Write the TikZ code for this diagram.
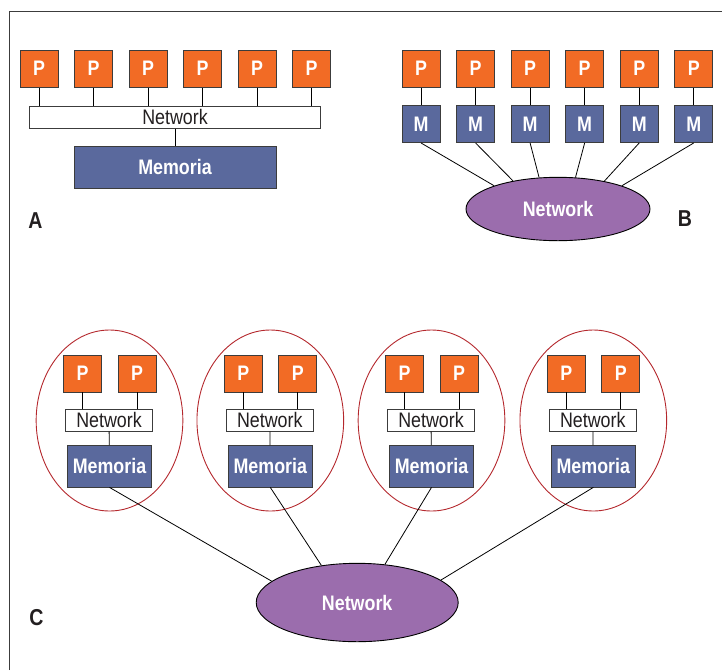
\documentclass[tikz,border=0pt]{standalone}
\usepackage{fontspec}
\setmainfont{Liberation Sans}[FakeStretch=0.85]
\usepackage{tikz}
\usetikzlibrary{shapes.geometric, positioning}

\definecolor{porange}{RGB}{242,107,37}
\definecolor{mblue}{RGB}{90,105,157}
\definecolor{npurple}{RGB}{155,109,173}
\definecolor{cred}{RGB}{180,40,45}
\definecolor{boxgray}{RGB}{60,60,60}
\definecolor{textgray}{RGB}{35,31,32}

\begin{document}
\begin{tikzpicture}[
  x=1pt, y=-1pt,
  pbox/.style={draw=boxgray, line width=0.9pt, fill=porange, minimum width=38pt, minimum height=37pt,
               inner sep=0pt, text=white, font=\bfseries\fontsize{21}{24}\selectfont},
  mbox/.style={pbox, fill=mblue},
  bar/.style={draw=boxgray, line width=0.9pt, fill=white, minimum height=21.7pt, inner sep=0pt,
              text=textgray, font=\fontsize{21}{24}\selectfont},
  mem/.style={draw=boxgray, line width=0.9pt, fill=mblue, minimum height=41.3pt, inner sep=0pt,
              text=white, font=\bfseries\fontsize{21}{24}\selectfont},
  net/.style={draw, line width=0.9pt, ellipse, fill=npurple, inner sep=0pt, text=white,
              font=\bfseries\fontsize{21}{24}\selectfont},
  grp/.style={draw=cred, line width=0.9pt, ellipse, minimum width=146.7pt, minimum height=181pt, inner sep=0pt},
  lbl/.style={text=textgray, font=\bfseries\fontsize{23}{26}\selectfont},
  link/.style={draw, line width=0.8pt}
]
  \useasboundingbox (0,0) rectangle (722,670);
  \draw[boxgray, line width=1pt] (9,670) -- (9,11) -- (722,11);

  % A: shared memory
  \foreach \i in {1,...,6}
    \node[pbox] (pa\i) at ({-15.5+54.5*\i},68.7) {P};
  \node[bar, minimum width=291.4pt] (neta) at (175,117.2) {Network};
  \node[mem, minimum width=202pt, below=17.7pt of neta] (mema) {Memoria};
  \foreach \i in {1,...,6}
    \draw[link] (pa\i.south) -- (pa\i.south |- neta.north);
  \draw[link] (neta) -- (mema);
  \node[lbl] (la) at (35.5,221) {A};

  % B: distributed memory
  \foreach \i in {1,...,6} {
    \node[pbox] (pb\i) at ({366.45+54.55*\i},68.7) {P};
    \node[mbox, below=17.4pt of pb\i] (mb\i) {M};
    \draw[link] (pb\i) -- (mb\i);
  }
  \node[net, minimum width=184pt, minimum height=63.4pt] (netb) at (558,209) {Network};
  \foreach \i/\a in {1/160,2/148,3/121,4/61,5/31,6/20}
    \draw[link] (mb\i.south) -- (netb.\a);
  \node[lbl] (lb) at (685,219) {B};

  % C: clusters
  \node[net, minimum width=202pt, minimum height=78.4pt] (netc) at (357.2,602.5) {Network};
  \foreach \i/\cx/\a in {1/109.5/166, 2/270.3/134, 3/431.5/54, 4/593.3/15} {
    \node[grp] (g\i) at (\cx,420.5) {};
    \node[pbox] (pcl\i) at (\cx-27,373.5) {P};
    \node[pbox] (pcr\i) at (\cx+27.5,373.5) {P};
    \node[bar, minimum width=87pt] (nc\i) at (\cx-0.5,420.2) {Network};
    \node[mem, minimum width=83.7pt] (mc\i) at (\cx,466.3) {Memoria};
    \draw[link] (pcl\i.south) -- (pcl\i.south |- nc\i.north);
    \draw[link] (pcr\i.south) -- (pcr\i.south |- nc\i.north);
    \draw[link] (nc\i) -- (mc\i);
    \draw[link] (mc\i.south) -- (netc.\a);
  }
  \node[lbl] (lc) at (36.5,618) {C};
\end{tikzpicture}
\end{document}
